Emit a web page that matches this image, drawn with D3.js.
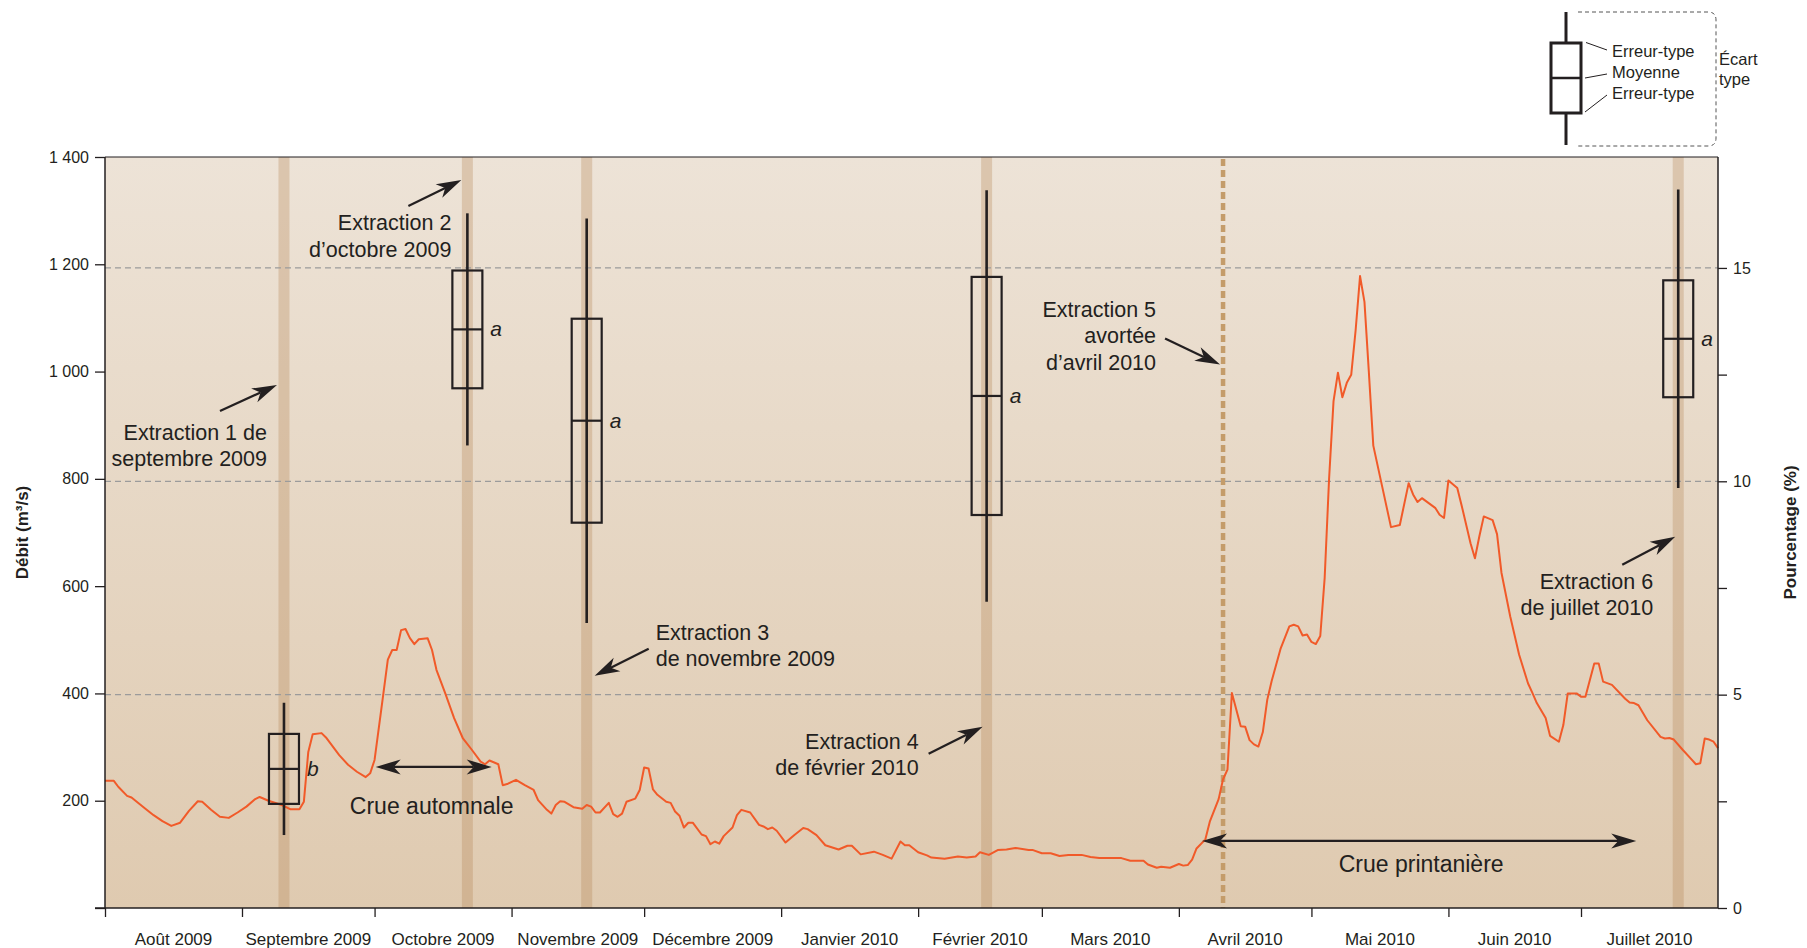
<!DOCTYPE html>
<html>
<head>
<meta charset="utf-8">
<script src="https://cdn.jsdelivr.net/npm/d3@7"></script>
<style>
  html, body { margin: 0; padding: 0; background: #ffffff; }
  svg { display: block; font-family: "Liberation Sans", Arial, Helvetica, sans-serif; }
</style>
</head>
<body>
<svg id="chart" width="1807" height="948"></svg>
<script>
// ---------------------------------------------------------------------------
// Data
// ---------------------------------------------------------------------------

// Daily discharge (m³/s); day index counted from 1 August 2009
const flowDay = [
  0, 2, 3, 5, 6, 9, 11, 13, 15, 17, 19, 21, 22, 24, 26, 28, 30, 32, 34, 35,
  37, 40, 42, 44, 45, 46, 47, 49, 50, 53, 55, 57, 59, 60, 61, 63, 64, 65, 66, 67,
  68, 69, 70, 71, 73, 74, 75, 77, 79, 81, 83, 85, 86, 87, 89, 90, 91, 93, 95, 97,
  98, 100, 101, 102, 103, 104, 106, 108, 109, 110, 111, 112, 114, 115, 116, 117, 118, 120, 121, 122,
  123, 124, 125, 127, 128, 129, 130, 131, 132, 133, 135, 136, 137, 138, 139, 140, 142, 143, 144, 146,
  148, 149, 150, 151, 152, 154, 156, 158, 159, 161, 163, 166, 168, 169, 171, 174, 176, 178, 180, 181,
  182, 184, 186, 187, 190, 193, 195, 197, 198, 200, 202, 204, 206, 209, 210, 212, 214, 216, 218, 221,
  223, 225, 230, 232, 235, 236, 238, 239, 241, 243, 244, 245, 246, 247, 249, 250, 252, 253, 254, 255,
  257, 258, 259, 260, 261, 262, 263, 264, 266, 268, 269, 270, 271, 272, 273, 274, 275, 276, 277, 278,
  279, 280, 281, 282, 283, 284, 285, 286, 287, 289, 291, 293, 295, 296, 297, 298, 301, 302, 303, 304,
  306, 307, 309, 310, 311, 312, 314, 315, 316, 318, 320, 322, 323, 324, 326, 327, 329, 330, 331, 333,
  334, 335, 337, 338, 339, 341, 344, 345, 346, 347, 349, 352, 353, 354, 355, 357, 359, 360, 361, 362,
  363, 364, 365
];
const flowRate = [
  237, 237, 226, 209, 206, 186, 173, 162, 153, 159, 181, 199, 198, 183, 170, 168, 178, 189, 203, 207,
  200, 192, 184, 184, 198, 291, 324, 326, 318, 285, 267, 254, 244, 251, 276, 400, 463, 481, 481, 518,
  520, 503, 492, 501, 503, 481, 444, 400, 354, 316, 295, 273, 268, 275, 268, 229, 231, 239, 229, 220,
  201, 183, 176, 192, 199, 198, 188, 185, 192, 189, 178, 178, 196, 175, 170, 176, 198, 204, 220, 262,
  260, 221, 211, 198, 196, 180, 172, 150, 159, 159, 137, 134, 119, 124, 120, 134, 150, 173, 183, 178,
  155, 152, 147, 150, 144, 122, 136, 149, 147, 136, 117, 109, 116, 116, 100, 105, 99, 92, 124, 117,
  117, 104, 98, 94, 92, 96, 94, 96, 104, 99, 108, 109, 112, 108, 108, 102, 102, 97, 99, 99,
  95, 93, 93, 88, 88, 81, 75, 77, 75, 82, 79, 80, 90, 111, 128, 161, 203, 240, 258, 401,
  339, 338, 313, 305, 301, 328, 388, 423, 483, 525, 528, 525, 508, 510, 496, 492, 507, 616, 801, 945,
  998, 952, 979, 994, 1077, 1178, 1130, 998, 862, 786, 710, 714, 792, 771, 757, 764, 746, 733, 727, 797,
  783, 750, 680, 652, 693, 730, 723, 697, 625, 543, 472, 419, 401, 382, 354, 321, 310, 341, 400, 400,
  394, 394, 456, 456, 422, 416, 390, 383, 382, 378, 350, 319, 316, 317, 314, 295, 277, 268, 270, 316,
  314, 310, 298
];

const monthLabels = [
  "Août 2009", "Septembre 2009", "Octobre 2009", "Novembre 2009", "Décembre 2009", "Janvier 2010",
  "Février 2010", "Mars 2010", "Avril 2010", "Mai 2010", "Juin 2010", "Juillet 2010"
];

// Sampling campaigns
const extractionDates = ["2009-09-10T12:00", "2009-10-22T00:00", "2009-11-18T00:00",
                         "2010-02-16T12:00", "2010-04-11T00:00", "2010-07-23T00:00"];
const extractionAborted = [false, false, false, false, true, false];
// Percentage per campaign: mean, standard error, standard deviation, group letter
const pctMean   = [3.26, 13.56, 11.42, 12.00, null, 13.34];
const pctStdErr = [0.82, 1.38, 2.39, 2.79, null, 1.37];
const pctStdDev = [1.55, 2.72, 4.74, 4.82, null, 3.50];
const pctGroup  = ["b", "a", "a", "a", null, "a"];

const flowTicks = [0, 200, 400, 600, 800, 1000, 1200, 1400];
const pctTicks = [0, 2.5, 5, 7.5, 10, 12.5, 15];
const pctLabelled = [0, 5, 10, 15];
const pctGrid = [5, 10, 15];

// ---------------------------------------------------------------------------
// Layout
// ---------------------------------------------------------------------------
const plot = { left: 105, top: 157, right: 1718, bottom: 908 };
const ink = "#231f20";
const fontSize = { tick: 16, month: 17, title: 17, note: 21.5, flood: 23, legend: 16.5, letter: 21 };

const svg = d3.select("#chart");
const start = new Date(Date.UTC(2009, 7, 1));
const end = new Date(Date.UTC(2010, 7, 1));
const dayDate = d => new Date(start.getTime() + d * 864e5);
const parse = s => new Date(s + "Z");

const x = d3.scaleUtc().domain([start, end]).range([plot.left, plot.right]);
const yFlow = d3.scaleLinear().domain([0, 1400]).range([plot.bottom, plot.top]);
const yPct = d3.scaleLinear().domain([0, 17.6]).range([plot.bottom, plot.top]);

// Background gradient
const defs = svg.append("defs");
const grad = defs.append("linearGradient").attr("id", "bg").attr("x1", 0).attr("y1", 0).attr("x2", 0).attr("y2", 1);
grad.append("stop").attr("offset", "0%").attr("stop-color", "#ede3d7");
grad.append("stop").attr("offset", "100%").attr("stop-color", "#dfcab0");

svg.append("rect")
  .attr("x", plot.left).attr("y", plot.top)
  .attr("width", plot.right - plot.left).attr("height", plot.bottom - plot.top)
  .attr("fill", "url(#bg)");

// Sampling bands
const extractions = extractionDates.map((d, i) => ({
  date: parse(d), aborted: extractionAborted[i],
  mean: pctMean[i], se: pctStdErr[i], sd: pctStdDev[i], group: pctGroup[i]
}));

svg.append("g").selectAll("rect")
  .data(extractions.filter(e => !e.aborted))
  .join("rect")
  .attr("x", d => x(d.date) - 5.5).attr("y", plot.top)
  .attr("width", 11).attr("height", plot.bottom - plot.top)
  .attr("fill", "rgba(180,130,80,0.30)");

svg.append("g").selectAll("line")
  .data(extractions.filter(e => e.aborted))
  .join("line")
  .attr("x1", d => x(d.date)).attr("x2", d => x(d.date))
  .attr("y1", plot.top + 2).attr("y2", plot.bottom)
  .attr("stroke", "#c49c6a").attr("stroke-width", 4.5)
  .attr("stroke-dasharray", "7,4");

// Horizontal grid (percentage scale)
svg.append("g").selectAll("line")
  .data(pctGrid)
  .join("line")
  .attr("x1", plot.left).attr("x2", plot.right)
  .attr("y1", d => yPct(d)).attr("y2", d => yPct(d))
  .attr("stroke", "#9b9b9b").attr("stroke-width", 1.2)
  .attr("stroke-dasharray", "6,4");

// Discharge line
const flow = flowDay.map((d, i) => ({ date: dayDate(d), v: flowRate[i] }));
svg.append("path")
  .datum(flow)
  .attr("fill", "none")
  .attr("stroke", "#f15a29")
  .attr("stroke-width", 2)
  .attr("stroke-linejoin", "round")
  .attr("d", d3.line().x(d => x(d.date)).y(d => yFlow(d.v)));

// Box plots: mean, ± standard error (box), ± standard deviation (whiskers)
const boxW = 30;
const boxes = svg.append("g").selectAll("g")
  .data(extractions.filter(e => e.mean !== null))
  .join("g");
boxes.append("line")
  .attr("x1", d => x(d.date)).attr("x2", d => x(d.date))
  .attr("y1", d => yPct(d.mean + d.sd)).attr("y2", d => yPct(d.mean - d.sd))
  .attr("stroke", ink).attr("stroke-width", 2.6);
boxes.append("rect")
  .attr("x", d => x(d.date) - boxW / 2).attr("width", boxW)
  .attr("y", d => yPct(d.mean + d.se))
  .attr("height", d => yPct(d.mean - d.se) - yPct(d.mean + d.se))
  .attr("fill", "none").attr("stroke", ink).attr("stroke-width", 2.2);
boxes.append("line")
  .attr("x1", d => x(d.date) - boxW / 2).attr("x2", d => x(d.date) + boxW / 2)
  .attr("y1", d => yPct(d.mean)).attr("y2", d => yPct(d.mean))
  .attr("stroke", ink).attr("stroke-width", 2.2);
boxes.append("text")
  .attr("x", d => x(d.date) + boxW / 2 + 8)
  .attr("y", d => yPct(d.mean) + 7)
  .attr("font-size", fontSize.letter).attr("font-style", "italic")
  .attr("fill", ink)
  .text(d => d.group);

// Frame
svg.append("line")
  .attr("x1", plot.left).attr("x2", plot.right)
  .attr("y1", plot.top).attr("y2", plot.top)
  .attr("stroke", ink).attr("stroke-width", 1.2);

// Left axis: discharge
const fmtFlow = d => d === 0 ? "" : d3.format(",")(d).replace(",", " ");
const axL = svg.append("g").attr("transform", `translate(${plot.left},0)`)
  .call(d3.axisLeft(yFlow).tickValues(flowTicks).tickSize(10).tickPadding(6).tickFormat(fmtFlow));
// Right axis: percentage
const axR = svg.append("g").attr("transform", `translate(${plot.right},0)`)
  .call(d3.axisRight(yPct).tickValues(pctTicks).tickSize(9).tickPadding(6)
    .tickFormat(d => pctLabelled.includes(d) ? d3.format("d")(d) : ""));
// Bottom axis: months
const monthStarts = d3.utcMonth.range(start, end);
const axB = svg.append("g").attr("transform", `translate(0,${plot.bottom})`)
  .call(d3.axisBottom(x).tickValues(monthStarts).tickSize(9).tickFormat(""));

[axL, axR, axB].forEach(a => {
  a.select(".domain").attr("stroke", ink).attr("stroke-width", 1.5);
  a.selectAll(".tick line").attr("stroke", ink).attr("stroke-width", 1.3);
  a.selectAll(".tick text").attr("fill", ink).attr("font-size", fontSize.tick)
    .attr("font-family", "Liberation Sans, Arial, sans-serif");
});
axL.select(".domain").attr("d", `M0,${plot.top}V${plot.bottom}`);
axR.select(".domain").attr("d", `M0,${plot.top}V${plot.bottom}`);
axB.select(".domain").attr("d", `M${plot.left - 10},0H${plot.right}`);

svg.append("g").selectAll("text")
  .data(monthStarts)
  .join("text")
  .attr("x", d => x(new Date(d.getTime() + (d3.utcMonth.offset(d, 1) - d) / 2)))
  .attr("y", 945)
  .attr("text-anchor", "middle")
  .attr("font-size", fontSize.month).attr("fill", ink)
  .text((d, i) => monthLabels[i]);

// Axis titles
svg.append("text")
  .attr("transform", `translate(28,${(plot.top + plot.bottom) / 2}) rotate(-90)`)
  .attr("text-anchor", "middle").attr("font-weight", "bold")
  .attr("font-size", fontSize.title).attr("fill", ink)
  .text("Débit (m³/s)");
svg.append("text")
  .attr("transform", `translate(1796,${(plot.top + plot.bottom) / 2}) rotate(-90)`)
  .attr("text-anchor", "middle").attr("font-weight", "bold")
  .attr("font-size", fontSize.title).attr("fill", ink)
  .text("Pourcentage (%)");

// ---------------------------------------------------------------------------
// Annotations
// ---------------------------------------------------------------------------
function arrowHead(g, tx, ty, angle, len = 25, wid = 15) {
  const p = `M0,0L${-len},${-wid / 2}L${-len * 0.72},0L${-len},${wid / 2}Z`;
  g.append("path").attr("d", p).attr("fill", ink)
    .attr("transform", `translate(${tx},${ty}) rotate(${angle * 180 / Math.PI})`);
}
function arrow(g, x1, y1, x2, y2) {
  const a = Math.atan2(y2 - y1, x2 - x1);
  const back = 25 * 0.72;
  g.append("line")
    .attr("x1", x1).attr("y1", y1)
    .attr("x2", x2 - Math.cos(a) * back).attr("y2", y2 - Math.sin(a) * back)
    .attr("stroke", ink).attr("stroke-width", 2.2);
  arrowHead(g, x2, y2, a);
}
function doubleArrow(g, x1, x2, y) {
  const back = 25 * 0.72;
  g.append("line").attr("x1", x1 + back).attr("x2", x2 - back).attr("y1", y).attr("y2", y)
    .attr("stroke", ink).attr("stroke-width", 2.2);
  arrowHead(g, x1, y, Math.PI);
  arrowHead(g, x2, y, 0);
}
function label(g, lines, px, py, anchor, lead = 26.5) {
  const t = g.append("text").attr("font-size", fontSize.note).attr("fill", ink)
    .attr("text-anchor", anchor);
  lines.forEach((s, i) => t.append("tspan").attr("x", px).attr("y", py + i * lead).text(s));
}

const notes = svg.append("g");
// Each callout: tip anchored on a campaign band at a discharge level, tail offset in px
const callouts = [
  { i: 0, tipDx: -7, tipFlow: 975, tail: [-57, 26], text: ["Extraction 1 de", "septembre 2009"], tx: -10, ty: 55, anchor: "end" },
  { i: 1, tipDx: -6, tipFlow: 1357, tail: [-53, 26], text: ["Extraction 2", "d’octobre 2009"], tx: -10, ty: 50, anchor: "end" },
  { i: 2, tipDx: 8, tipFlow: 433, tail: [54, -27], text: ["Extraction 3", "de novembre 2009"], tx: 61, ty: -36, anchor: "start" },
  { i: 3, tipDx: -4, tipFlow: 338, tail: [-54, 27], text: ["Extraction 4", "de février 2010"], tx: -64, ty: 22, anchor: "end" },
  { i: 4, tipDx: -3, tipFlow: 1013, tail: [-55, -26], text: ["Extraction 5", "avortée", "d’avril 2010"], tx: -64, ty: -48, anchor: "end" },
  { i: 5, tipDx: -3, tipFlow: 692, tail: [-53, 28], text: ["Extraction 6", "de juillet 2010"], tx: -22, ty: 52, anchor: "end" }
];
callouts.forEach(c => {
  const bx = x(extractions[c.i].date) + c.tipDx;
  const by = yFlow(c.tipFlow);
  arrow(notes, bx + c.tail[0], by + c.tail[1], bx, by);
  label(notes, c.text, bx + c.tx, by + c.ty, c.anchor);
});

// Flood periods
const floods = [
  { from: "2009-10-01T06:00", to: "2009-10-27T12:00", flow: 263, text: "Crue automnale", ty: 47, dx: -2 },
  { from: "2010-04-06T06:00", to: "2010-07-13T12:00", flow: 125, text: "Crue printanière", ty: 31, dx: 2 }
];
floods.forEach(f => {
  const x1 = x(parse(f.from)), x2 = x(parse(f.to)), y = yFlow(f.flow);
  doubleArrow(notes, x1, x2, y);
  notes.append("text").attr("x", (x1 + x2) / 2 + f.dx).attr("y", y + f.ty)
    .attr("text-anchor", "middle").attr("font-size", fontSize.flood).attr("fill", ink)
    .text(f.text);
});

// ---------------------------------------------------------------------------
// Legend (box glyph)
// ---------------------------------------------------------------------------
const lg = svg.append("g");
const lx = 1566;
lg.append("line").attr("x1", lx).attr("x2", lx).attr("y1", 12).attr("y2", 145)
  .attr("stroke", ink).attr("stroke-width", 3);
lg.append("rect").attr("x", lx - 15).attr("y", 43).attr("width", 30).attr("height", 70)
  .attr("fill", "#ffffff").attr("stroke", ink).attr("stroke-width", 3);
lg.append("line").attr("x1", lx - 15).attr("x2", lx + 15).attr("y1", 78).attr("y2", 78)
  .attr("stroke", ink).attr("stroke-width", 2.5);
[[1586, 42.5, 1607, 50], [1585, 78, 1607, 74], [1585, 112, 1607, 95]].forEach(s => {
  lg.append("line").attr("x1", s[0]).attr("y1", s[1]).attr("x2", s[2]).attr("y2", s[3])
    .attr("stroke", ink).attr("stroke-width", 1);
});
["Erreur-type", "Moyenne", "Erreur-type"].forEach((s, i) => {
  lg.append("text").attr("x", 1612).attr("y", 56.5 + i * 21)
    .attr("font-size", fontSize.legend).attr("fill", ink).text(s);
});
lg.append("path")
  .attr("d", "M1578,12H1708Q1716,12 1716,20V138Q1716,146 1708,146H1578")
  .attr("fill", "none").attr("stroke", "#555555").attr("stroke-width", 1)
  .attr("stroke-dasharray", "4,3");
["Écart", "type"].forEach((s, i) => {
  lg.append("text").attr("x", 1719).attr("y", 65 + i * 19.5)
    .attr("font-size", fontSize.legend).attr("fill", ink).text(s);
});
</script>
</body>
</html>
